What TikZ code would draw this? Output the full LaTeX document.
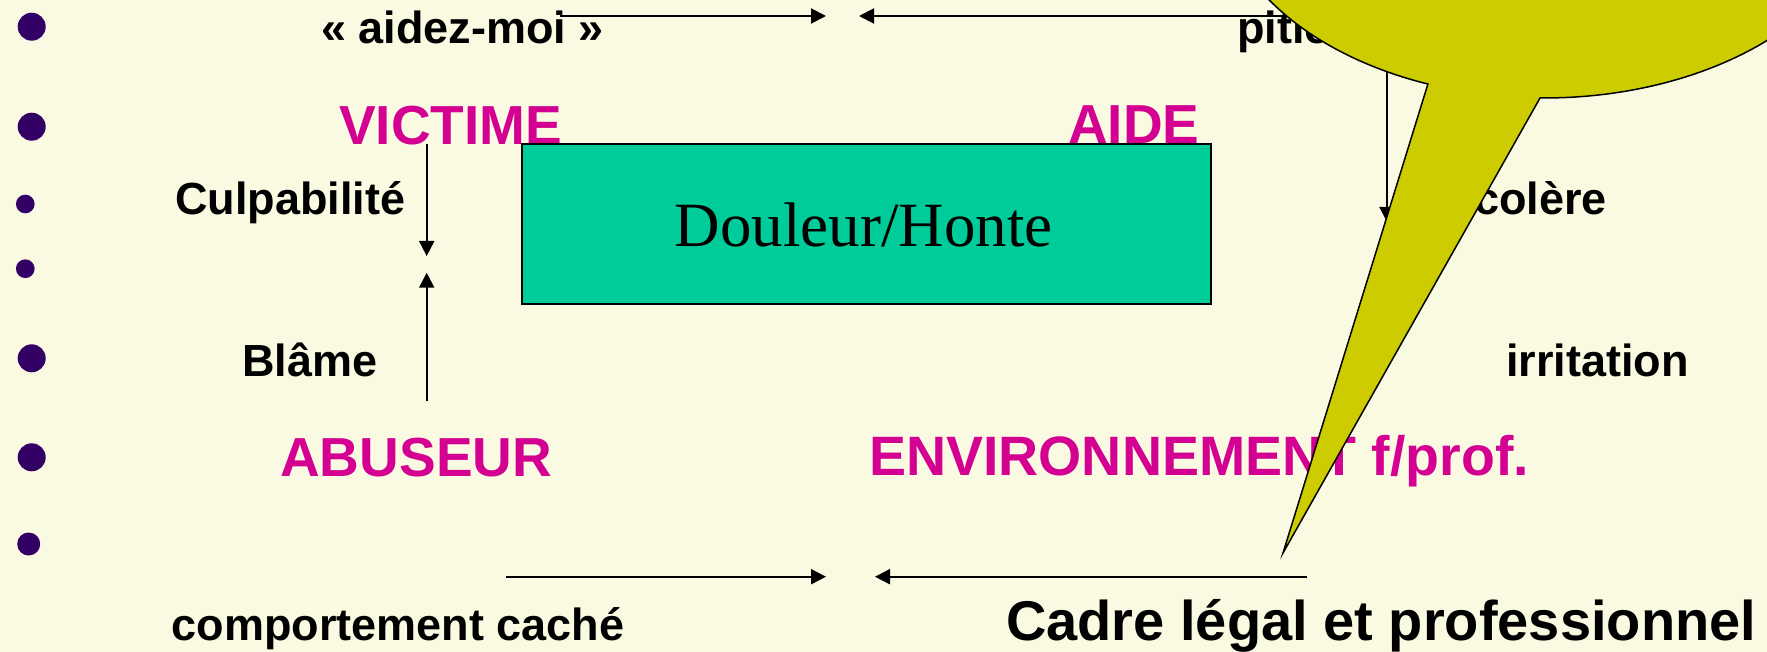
\documentclass[tikz,border=0pt]{standalone}
\usepackage{fontspec}
\setmainfont{Liberation Sans}
\newfontfamily\serifont{Liberation Serif}
\usetikzlibrary{arrows.meta}
\definecolor{bgc}{RGB}{250,250,226}
\definecolor{mag}{RGB}{212,0,145}
\definecolor{boxteal}{RGB}{0,204,153}
\definecolor{balloonc}{RGB}{204,204,0}
\definecolor{bul}{RGB}{51,0,102}
\tikzset{
  lbl/.style={inner sep=0pt, anchor=base west, font=\bfseries\fontsize{45}{54}\selectfont},
  role/.style={inner sep=0pt, anchor=base west, text=mag, font=\bfseries\fontsize{55}{66}\selectfont},
  conn/.style={line width=2pt, -{Triangle[length=15pt,width=15pt]}},
  dotbig/.style={circle, fill=bul, inner sep=0pt, minimum size=28pt},
  dotmid/.style={circle, fill=bul, inner sep=0pt, minimum size=23pt},
  dotsmall/.style={circle, fill=bul, inner sep=0pt, minimum size=18.7pt},
  balloon/.style={fill=balloonc, draw=black, line width=1.5pt, line join=miter}
}
\begin{document}
\begin{tikzpicture}[x=1pt,y=-1pt]
\useasboundingbox (0,0) rectangle (1767,652);
\fill[bgc] (0,0) rectangle (1767,652);
\clip (0,0) rectangle (1767,652);
% bullets
\node[dotbig] (d1) at (31.7,26.7) {};
\node[dotbig] (d2) at (31.7,126.7) {};
\node[dotsmall] (d3) at (25.3,204) {};
\node[dotsmall] (d4) at (25.3,268.7) {};
\node[dotbig] (d5) at (31.7,358.3) {};
\node[dotbig] (d6) at (31.7,457.3) {};
\node[dotmid] (d7) at (28.7,544) {};
% labels
\node[lbl] (aidez) at (321,44) {« aidez-moi »};
\node[lbl] (pitie) at (1237,44) {pitié};
\node[role] (victime) at (339,145) {VICTIME};
\node[role] (aide) at (1068,144) {AIDE};
\node[lbl] (culp) at (175,215) {Culpabilité};
\node[lbl] (colere) at (1474,215) {colère};
\node[lbl] (blame) at (242,376) {Blâme};
\node[lbl] (irrit) at (1506,376) {irritation};
\node[role] (abuseur) at (280,476) {ABUSEUR};
\node[role, font=\bfseries\fontsize{55.5}{66}\selectfont] (env) at (869,475) {ENVIRONNEMENT f/prof.};
\node[lbl] (comport) at (171.7,640) {comportement caché};
\node[lbl, font=\bfseries\fontsize{56}{66}\selectfont] (cadre) at (1006,640) {Cadre légal et professionnel};
% connector end points
\coordinate (t1s) at (560,16);   \coordinate (t1e) at (826,16);
\coordinate (t2s) at (1300,16);  \coordinate (t2e) at (859,16);
\coordinate (v1s) at (426.7,144); \coordinate (v1e) at (426.7,256);
\coordinate (v2s) at (426.7,400.7); \coordinate (v2e) at (426.7,272.7);
\coordinate (v3s) at (1387,60);  \coordinate (v3e) at (1387,222);
\coordinate (b1s) at (506,576.7); \coordinate (b1e) at (826,576.7);
\coordinate (b2s) at (1307,576.7); \coordinate (b2e) at (875,576.7);
\draw[conn] (t1s) -- (t1e);
\draw[conn] (t2s) -- (t2e);
\draw[conn] (v1s) -- (v1e);
\draw[conn] (v2s) -- (v2e);
\draw[conn] (v3s) -- (v3e);
\draw[conn] (b1s) -- (b1e);
\draw[conn] (b2s) -- (b2e);
% central box
\node[draw=black, fill=boxteal, line width=2pt, inner sep=0pt, outer sep=0pt,
      minimum width=689pt, minimum height=160pt, anchor=north west] (box) at (522,144) {};
\node[inner sep=0pt, anchor=base west, font=\serifont\fontsize{63}{72}\selectfont] (douleur) at (674.5,247) {Douleur/Honte};
% speech balloon
\coordinate (tip) at (1283,553);
\draw[balloon] plot[domain=110.8:450.7, samples=240, smooth] ({1544+327*cos(\x)},{-116+214*sin(\x)}) -- (tip) -- cycle;
\end{tikzpicture}
\end{document}
